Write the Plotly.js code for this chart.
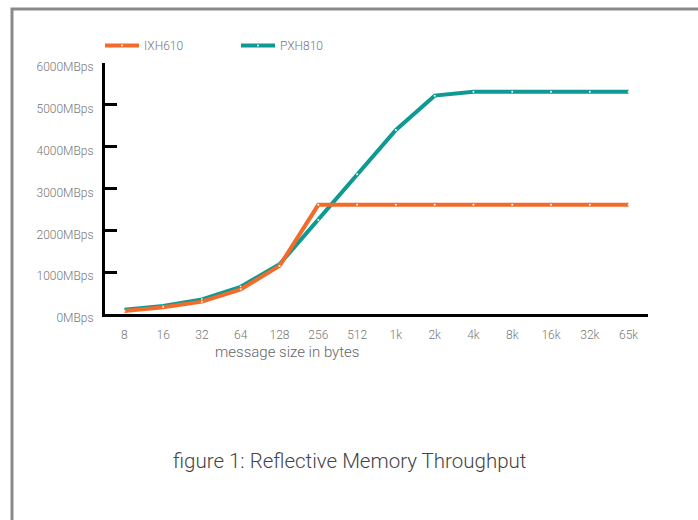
<!DOCTYPE html>
<html>
<head>
<meta charset="utf-8">
<script src="https://cdn.plot.ly/plotly-3.0.1.min.js"></script>
<style>html,body{margin:0;padding:0;background:#fff;}#chart{width:698px;height:520px;}</style>
</head>
<body>
<div id="chart"></div>
<script>
var sizes = ["8","16","32","64","128","256","512","1k","2k","4k","8k","16k","32k","65k"];
var ixh610 = [70,160,295,590,1150,2610,2610,2610,2610,2610,2610,2610,2610,2610];
var pxh810 = [100,190,350,650,1190,2250,3340,4400,5220,5310,5310,5310,5310,5310];
var yTicks = [0,1000,2000,3000,4000,5000,6000];
var yTickText = ["0MBps","1000MBps","2000MBps","3000MBps","4000MBps","5000MBps","6000MBps"];
var xTitle = "message size in bytes";
var caption = "figure 1: Reflective Memory Throughput";

var W = 698, H = 520, L = 105, R = 50, T = 63, B = 206;
var pw = W - L - R, ph = H - T - B;
function px(x){ return (x - L) / pw; }
function py(y){ return (H - B - y) / ph; }

var traces = [
  {x: sizes, y: pxh810, name: "PXH810", type: "scatter", mode: "lines+markers",
   line: {color: "#0E9A92", width: 4}, marker: {color: "#ffffff", size: 2}},
  {x: sizes, y: ixh610, name: "IXH610", type: "scatter", mode: "lines+markers",
   line: {color: "#F26B2A", width: 4}, marker: {color: "#ffffff", size: 2}}
];

var layout = {
  width: W, height: H,
  margin: {l: L, r: R, t: T, b: B},
  paper_bgcolor: "#ffffff", plot_bgcolor: "#ffffff",
  font: {family: "Roboto, 'Liberation Sans', sans-serif", color: "#777", size: 11, weight: 300},
  showlegend: true,
  legend: {orientation: "h", x: px(100), y: py(31), xanchor: "left", yanchor: "top",
           entrywidth: 87, entrywidthmode: "pixels", traceorder: "reversed", itemwidth: 34,
           font: {size: 12, color: "#777", weight: 300}, bgcolor: "rgba(0,0,0,0)"},
  xaxis: {type: "category", range: [-0.5, 13.5], showgrid: false, zeroline: false,
          showline: true, linecolor: "#000", linewidth: 3, ticks: "",
          tickfont: {size: 12, color: "#777", weight: 300}, ticklabelstandoff: 8, fixedrange: true},
  yaxis: {range: [0, 6000], tickmode: "array", tickvals: yTicks, ticktext: yTickText,
          showgrid: false, zeroline: false,
          showline: true, linecolor: "#000", linewidth: 3, ticks: "inside", ticklen: 12, tickwidth: 3,
          tickcolor: "#000", ticklabelshift: 4, ticklabelstandoff: 6,
          tickfont: {size: 12, color: "#777", weight: 300}, fixedrange: true},
  shapes: [
    {type: "rect", xref: "paper", yref: "paper", x0: px(12), x1: px(740), y0: py(9), y1: py(560),
     line: {color: "#8a8a8a", width: 3}, fillcolor: "rgba(0,0,0,0)", layer: "below"}
  ],
  annotations: [
    {text: xTitle, xref: "paper", yref: "paper", x: px(287), y: py(352), xanchor: "center", yanchor: "middle",
     showarrow: false, font: {size: 15, color: "#666", weight: 300}},
    {text: caption, xref: "paper", yref: "paper", x: px(349), y: py(461), xanchor: "center", yanchor: "middle",
     showarrow: false, font: {size: 20.5, color: "#444", weight: 300}}
  ]
};

Plotly.newPlot("chart", traces, layout, {displayModeBar: false, staticPlot: true});
</script>
</body>
</html>
